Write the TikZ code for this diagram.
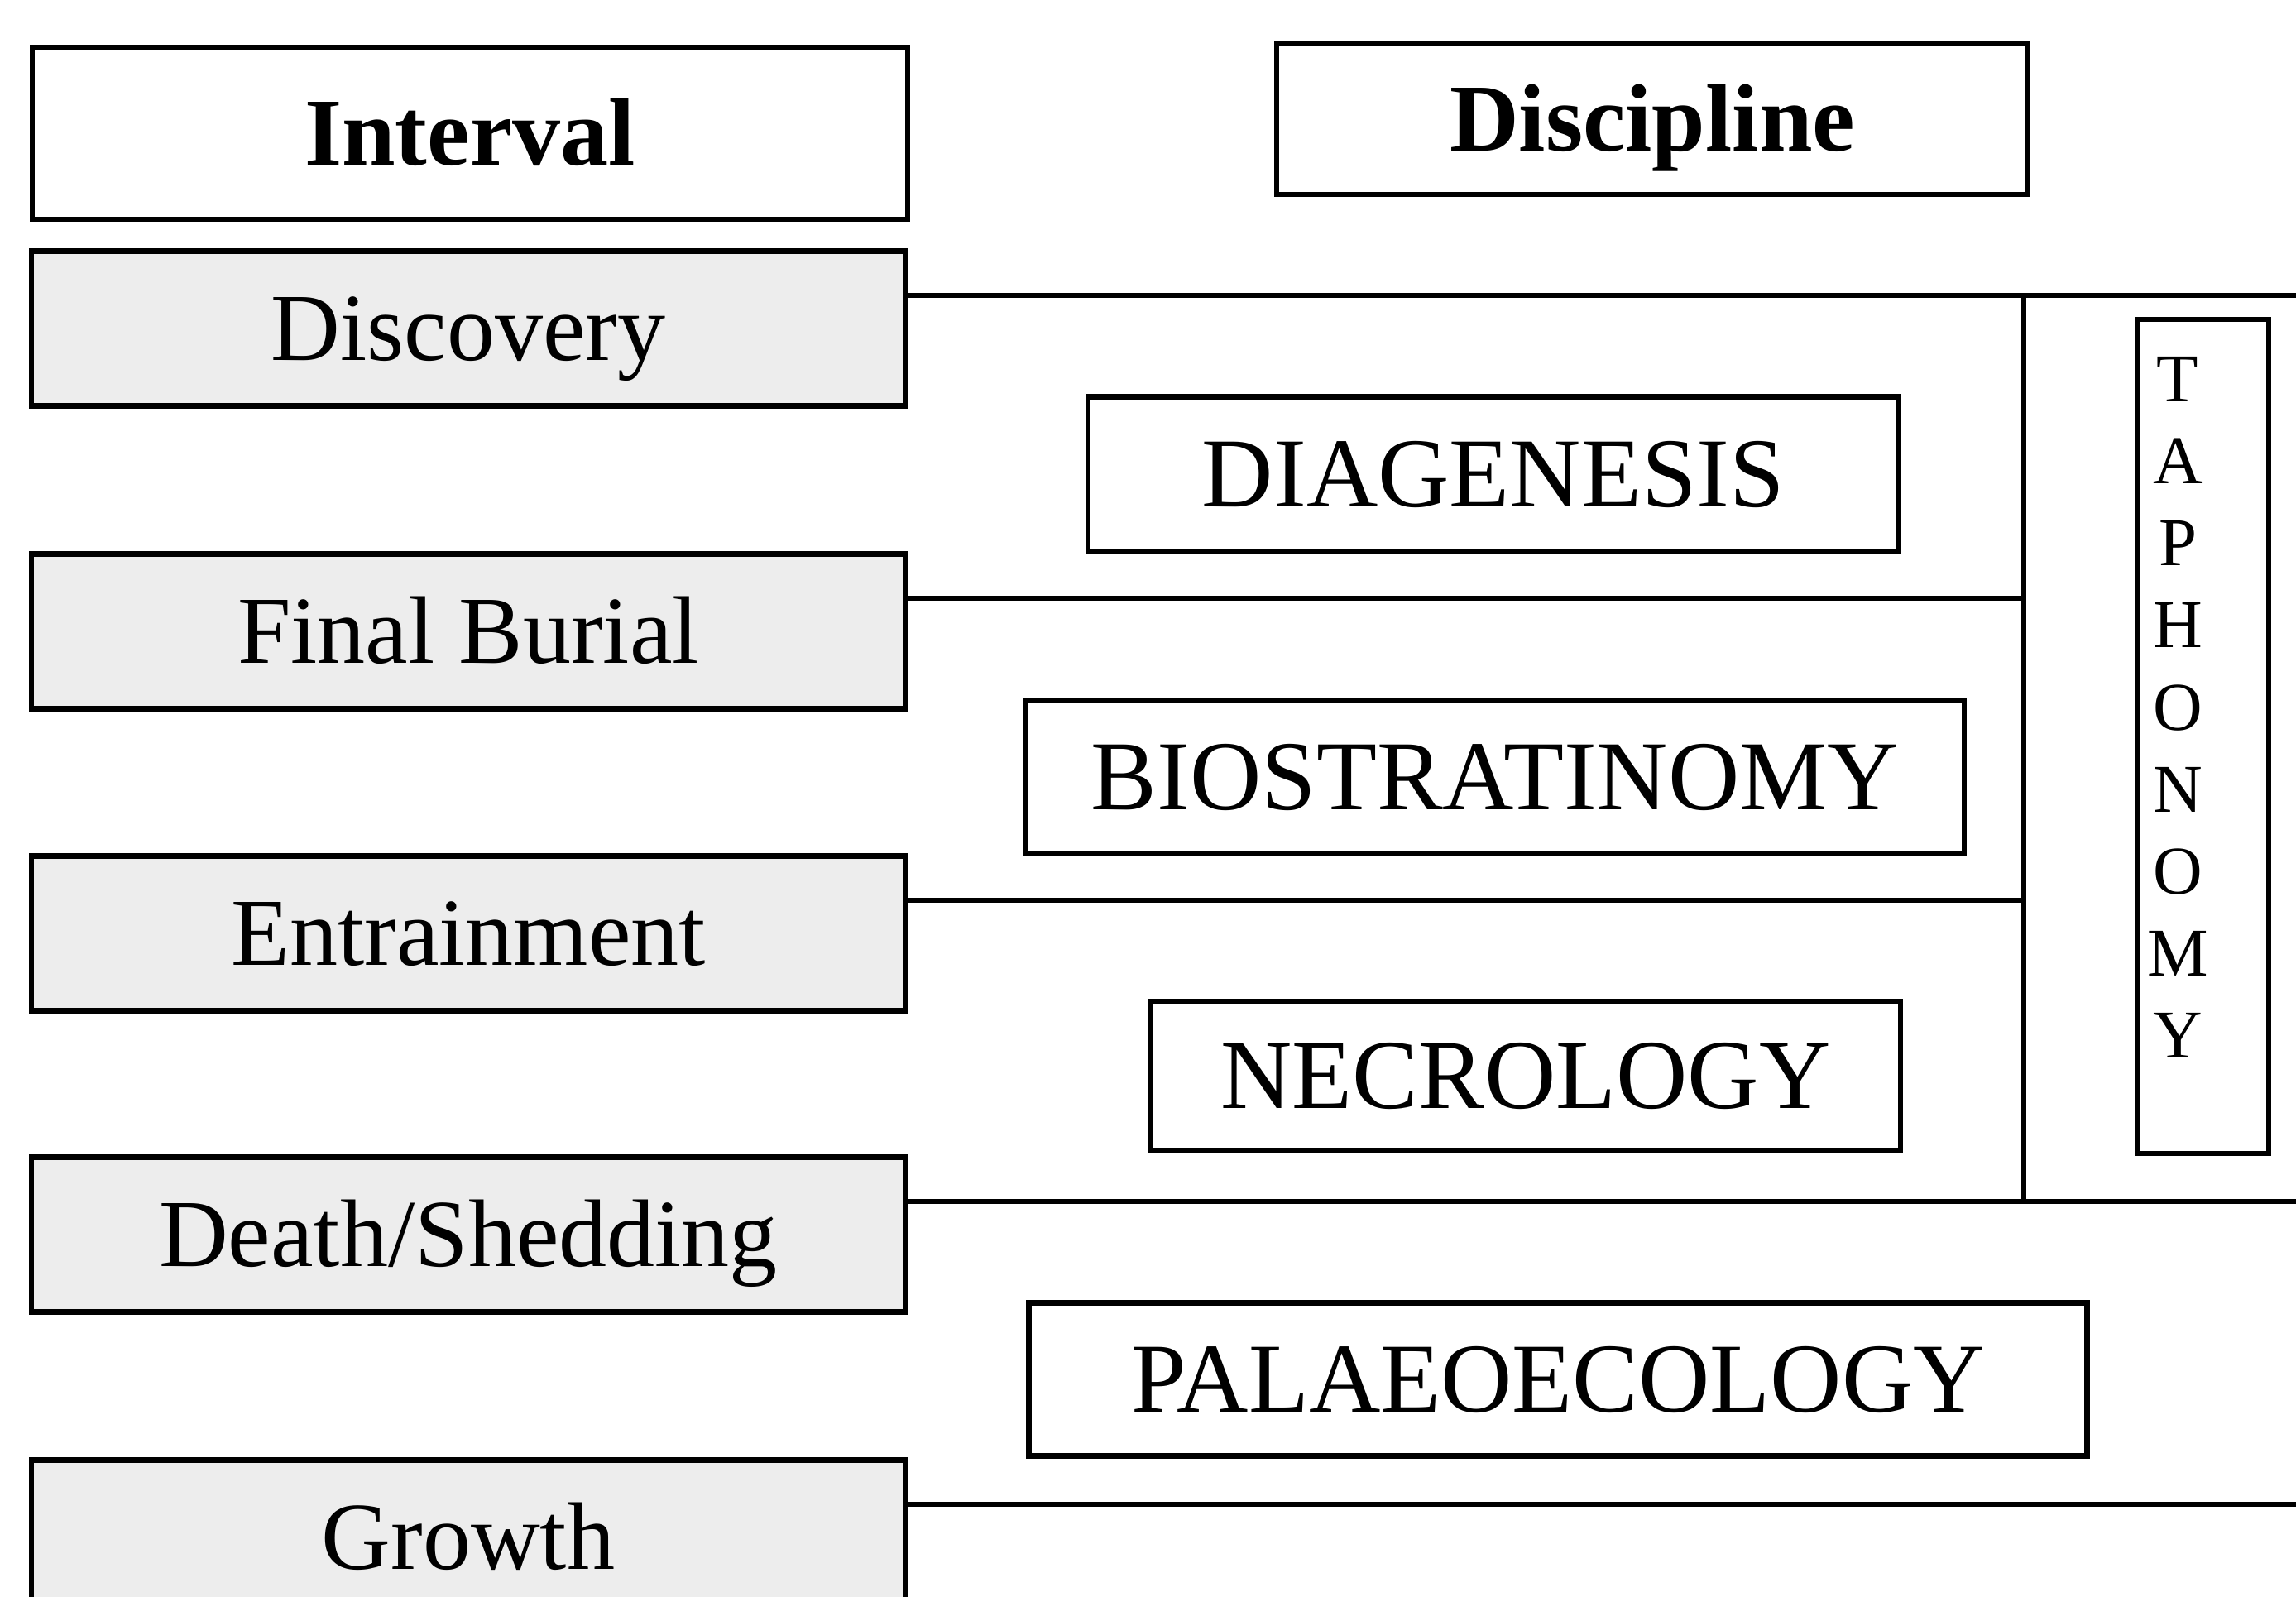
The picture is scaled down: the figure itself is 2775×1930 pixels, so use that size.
\documentclass[tikz,border=0pt]{standalone}
\usepackage{fontspec}
\setmainfont{Liberation Serif}
\begin{document}
\begin{tikzpicture}[x=0.01cm, y=-0.01cm,
  every node/.style={inner sep=0pt, outer sep=0pt},
  frame/.style={draw=black, line width=1.8pt, rectangle},
  headbox/.style={frame, text height=0.77cm, text depth=0pt,
    font=\fontsize{33}{40}\selectfont\bfseries},
  stagebox/.style={frame, fill=black!7, minimum width=10.55cm, minimum height=1.87cm,
    text height=0.77cm, text depth=0pt, font=\fontsize{33}{40}\selectfont},
  fieldbox/.style={frame, fill=white, font=\fontsize{34}{40}\selectfont},
  link/.style={line width=1.8pt}
]
\path[use as bounding box] (0,0) rectangle (2775,1930);
\fill[white] (0,0) rectangle (2775,1930);
\clip (0,0) rectangle (2775,1930);

% column headings
\node[headbox, minimum width=10.58cm, minimum height=2.08cm] (interval) at (568,161) {Interval};
\node[headbox, minimum width=9.08cm, minimum height=1.82cm] (discipline) at (1997,144) {Discipline};

% intervals
\node[stagebox] (discovery) at (566,397)  {Discovery};
\node[stagebox] (burial)    at (566,763)  {Final Burial};
\node[stagebox] (entrain)   at (566,1128) {Entrainment};
\node[stagebox] (death)     at (566,1492) {Death/Shedding};
\node[stagebox] (growth)    at (566,1858) {Growth};

% disciplines
\node[fieldbox, minimum width=9.80cm,  minimum height=1.87cm] (diag)  at (1805,573)  {DIAGENESIS};
\node[fieldbox, minimum width=11.33cm, minimum height=1.85cm] (bios)  at (1807,939)  {BIOSTRATINOMY};
\node[fieldbox, minimum width=9.06cm,  minimum height=1.80cm] (necro) at (1844,1300) {NECROLOGY};
\node[fieldbox, minimum width=12.78cm, minimum height=1.85cm] (palaeo) at (1883,1667) {PALAEOECOLOGY};

% taphonomy bracket
\node[frame, minimum width=1.58cm, minimum height=10.08cm] (taphbox) at (2663,890) {};
\node[font=\fontsize{23.5}{28.2}\selectfont, align=center] (taph) at (2632,855)
  {T\\A\\P\\H\\O\\N\\O\\M\\Y};

% interval boundaries
\coordinate (spine) at (2446,0);
\coordinate (edge)  at (2800,0);
\draw[link] ([yshift=4mm]discovery.east) coordinate (lnA) -- (lnA -| edge);
\draw[link] ([yshift=4mm]burial.east)    coordinate (lnB) -- (lnB -| spine);
\draw[link] ([yshift=4mm]entrain.east)   coordinate (lnC) -- (lnC -| spine);
\draw[link] ([yshift=4mm]death.east)     coordinate (lnD) -- (lnD -| edge);
\draw[link] ([yshift=4mm]growth.east)    coordinate (lnE) -- (lnE -| edge);
\draw[link] (lnA -| spine) -- (lnD -| spine);
\end{tikzpicture}
\end{document}
